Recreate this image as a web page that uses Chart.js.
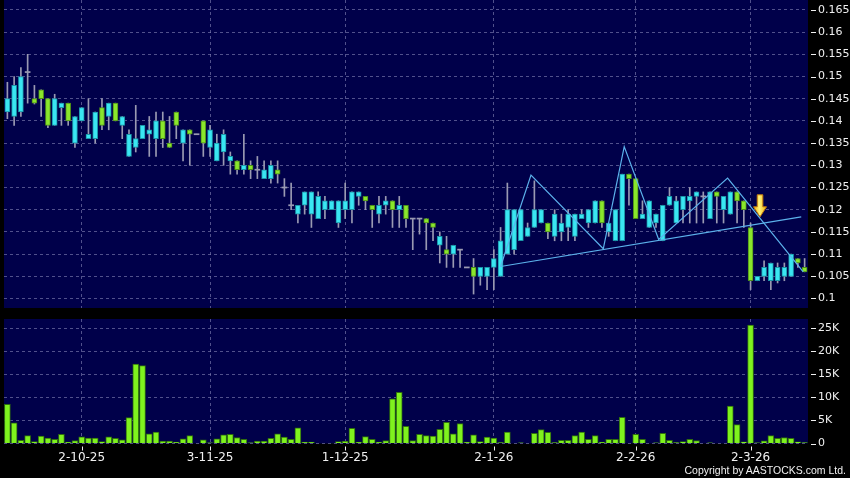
<!DOCTYPE html>
<html lang="en">
<head>
  <meta charset="UTF-8" />
  <title>Price and volume chart</title>
  <script src="https://cdn.jsdelivr.net/npm/chart.js"></script>
  <style>
    html, body { margin: 0; padding: 0; background: #000; }
    #wrap { position: relative; width: 850px; height: 478px; overflow: hidden; background: #000; }
    #priceChart { position: absolute; left: 0; top: 0; }
    #volumeChart { position: absolute; left: 0; top: 319px; }
    #copyright {
      position: absolute; right: 4px; top: 464px;
      font: 10.5px 'Liberation Sans', sans-serif; color: #f0f0f0; white-space: nowrap;
    }
  </style>
</head>
<body>
  <div id="wrap">
    <canvas id="priceChart" width="850" height="308"></canvas>
    <canvas id="volumeChart" width="850" height="159"></canvas>
    <div id="copyright">Copyright by AASTOCKS.com Ltd.</div>
  </div>

  <script>
    // daily candles, oldest first
    const opens = [
      0.142, 0.141, 0.142, 0.151, 0.145, 0.147, 0.145, 0.139, 0.143, 0.144,
      0.135, 0.140, 0.136, 0.136, 0.143, 0.141, 0.144, 0.139, 0.132, 0.134,
      0.136, 0.137, 0.136, 0.140, 0.135, 0.142, 0.135, 0.138, 0.137, 0.140,
      0.134, 0.131, 0.133, 0.131, 0.131, 0.129, 0.130, 0.129, 0.127, 0.127,
      0.129, 0.125, 0.121, 0.119, 0.121, 0.119, 0.118, 0.120, 0.120, 0.117,
      0.120, 0.120, 0.123, 0.123, 0.121, 0.119, 0.121, 0.122, 0.120, 0.121,
      0.118, 0.118, 0.118, 0.117, 0.112, 0.111, 0.110, 0.111, 0.107, 0.107,
      0.105, 0.105, 0.107, 0.105, 0.110, 0.111, 0.113, 0.114, 0.116, 0.117,
      0.117, 0.114, 0.115, 0.116, 0.114, 0.118, 0.117, 0.117, 0.122, 0.115,
      0.113, 0.113, 0.128, 0.127, 0.118, 0.116, 0.117, 0.113, 0.121, 0.117,
      0.120, 0.122, 0.123, 0.123, 0.118, 0.124, 0.120, 0.119, 0.124, 0.122,
      0.116, 0.104, 0.105, 0.104, 0.104, 0.105, 0.105, 0.109, 0.107
    ];
    const highs = [
      0.1487, 0.150, 0.152, 0.155, 0.148, 0.147, 0.145, 0.146, 0.144, 0.144,
      0.141, 0.143, 0.145, 0.142, 0.145, 0.144, 0.144, 0.141, 0.138, 0.1435,
      0.139, 0.141, 0.142, 0.142, 0.141, 0.142, 0.138, 0.138, 0.137, 0.140,
      0.139, 0.137, 0.138, 0.133, 0.131, 0.137, 0.131, 0.132, 0.131, 0.131,
      0.131, 0.127, 0.126, 0.121, 0.124, 0.124, 0.124, 0.123, 0.122, 0.122,
      0.126, 0.124, 0.124, 0.123, 0.121, 0.123, 0.123, 0.122, 0.123, 0.121,
      0.118, 0.118, 0.118, 0.117, 0.115, 0.114, 0.112, 0.111, 0.107, 0.109,
      0.107, 0.107, 0.111, 0.116, 0.126, 0.120, 0.120, 0.117, 0.1265, 0.120,
      0.117, 0.120, 0.119, 0.120, 0.119, 0.120, 0.120, 0.122, 0.122, 0.117,
      0.120, 0.128, 0.128, 0.127, 0.122, 0.122, 0.119, 0.121, 0.125, 0.123,
      0.123, 0.125, 0.124, 0.124, 0.124, 0.124, 0.123, 0.124, 0.124, 0.122,
      0.117, 0.105, 0.1085, 0.108, 0.108, 0.108, 0.110, 0.109, 0.109
    ];
    const lows = [
      0.1405, 0.139, 0.141, 0.144, 0.1438, 0.141, 0.1385, 0.139, 0.139, 0.139,
      0.134, 0.140, 0.136, 0.135, 0.138, 0.138, 0.140, 0.136, 0.132, 0.133,
      0.136, 0.132, 0.132, 0.134, 0.134, 0.136, 0.131, 0.130, 0.137, 0.132,
      0.132, 0.131, 0.130, 0.128, 0.128, 0.128, 0.127, 0.127, 0.127, 0.126,
      0.126, 0.123, 0.120, 0.117, 0.119, 0.116, 0.118, 0.118, 0.120, 0.116,
      0.118, 0.117, 0.121, 0.120, 0.116, 0.117, 0.119, 0.116, 0.116, 0.116,
      0.111, 0.1145, 0.111, 0.113, 0.108, 0.107, 0.107, 0.107, 0.107, 0.101,
      0.103, 0.102, 0.102, 0.105, 0.110, 0.110, 0.113, 0.114, 0.116, 0.117,
      0.1135, 0.113, 0.113, 0.113, 0.113, 0.118, 0.116, 0.117, 0.116, 0.114,
      0.113, 0.113, 0.121, 0.118, 0.118, 0.116, 0.116, 0.113, 0.121, 0.117,
      0.117, 0.117, 0.117, 0.117, 0.118, 0.117, 0.117, 0.119, 0.117, 0.116,
      0.102, 0.104, 0.104, 0.102, 0.1035, 0.104, 0.105, 0.107, 0.106
    ];
    const closes = [
      0.145, 0.148, 0.150, 0.151, 0.144, 0.145, 0.139, 0.145, 0.144, 0.140,
      0.141, 0.143, 0.137, 0.142, 0.139, 0.144, 0.140, 0.141, 0.137, 0.136,
      0.139, 0.138, 0.140, 0.136, 0.134, 0.139, 0.138, 0.137, 0.137, 0.135,
      0.138, 0.135, 0.137, 0.132, 0.129, 0.130, 0.129, 0.129, 0.129, 0.130,
      0.128, 0.125, 0.121, 0.121, 0.124, 0.124, 0.123, 0.122, 0.122, 0.122,
      0.122, 0.124, 0.124, 0.122, 0.120, 0.121, 0.122, 0.120, 0.121, 0.118,
      0.118, 0.118, 0.117, 0.116, 0.114, 0.110, 0.112, 0.111, 0.107, 0.105,
      0.107, 0.107, 0.109, 0.113, 0.120, 0.120, 0.120, 0.116, 0.120, 0.120,
      0.115, 0.119, 0.117, 0.119, 0.119, 0.119, 0.120, 0.122, 0.117, 0.117,
      0.120, 0.128, 0.127, 0.118, 0.119, 0.122, 0.119, 0.121, 0.123, 0.122,
      0.123, 0.123, 0.124, 0.123, 0.124, 0.123, 0.123, 0.124, 0.122, 0.120,
      0.104, 0.105, 0.107, 0.108, 0.107, 0.107, 0.110, 0.108, 0.106
    ];
    // daily volume, thousands of shares
    const volumesK = [
      8.5, 4.5, 0.7, 1.7, 0.4, 1.6, 1.2, 0.9, 2.0, 0.3,
      0.65, 1.45, 1.2, 1.2, 0.4, 1.45, 1.1, 0.8, 5.6, 17.2,
      16.9, 2.1, 2.5, 0.5, 0.5, 0.3, 1.0, 1.7, 0, 0.8,
      0.15, 1.0, 1.9, 2.0, 1.3, 0.9, 0.15, 0.5, 0.5, 1.1,
      2.1, 1.4, 0.9, 3.4, 0.3, 0.3, 0, 0, 0.1, 0.4,
      0.5, 3.3, 0.3, 1.5, 0.9, 0.3, 0.65, 9.7, 11.1, 3.7,
      0.65, 2.0, 1.7, 1.6, 3.1, 4.6, 2.1, 4.3, 0.3, 1.9,
      0.4, 1.4, 1.2, 0.2, 2.5, 0, 0.15, 0, 2.2, 3.0,
      2.4, 0.2, 0.7, 0.7, 1.7, 2.5, 0.9, 1.7, 0.3, 0.9,
      0.9, 5.7, 0, 2.0, 0.9, 0, 0.15, 2.2, 0.7, 0.2,
      0.4, 0.9, 0.65, 0, 0.15, 0, 0, 8.1, 4.1, 0.35,
      25.7, 0.15, 0.6, 1.7, 1.1, 1.3, 1.1, 0.35, 0.2
    ];

    // date labels on the x axis (candle index -> text)
    const dateTickIndex = [11, 30, 50, 72, 93, 110];
    const dateTickText = ['2-10-25', '3-11-25', '1-12-25', '2-1-26', '2-2-26', '2-3-26'];
    const priceTicks = [0.1, 0.105, 0.11, 0.115, 0.12, 0.125, 0.13, 0.135, 0.14, 0.145, 0.15, 0.155, 0.16, 0.165];
    const volumeTicksK = [0, 5, 10, 15, 20, 25];

    // drawn trend lines (candle index, price)
    const zigzagIndex = [73, 77.5, 88.2, 91.3, 96.4, 106.6, 117.8];
    const zigzagPrice = [0.1072, 0.1278, 0.1112, 0.1342, 0.1133, 0.1271, 0.1060];
    const supportIndex = [73, 117.5];
    const supportPrice = [0.1072, 0.1184];
    // arrow tip
    const arrowIndex = 111.4;
    const arrowPrice = 0.1184;

    const NAVY = '#00004a';
    const GRID = 'rgba(125,125,175,0.65)';
    const LABEL = '#f0f0f0';
    const CYAN = '#3ae6f2';
    const CYAN_EDGE = '#1b95a8';
    const GREEN = '#8ae62c';
    const GREEN_EDGE = '#4d8e1a';
    const WICK = '#9a9ab2';
    const TREND = '#5cb2ec';

    const count = closes.length;
    const xMin = -0.5;
    const xMax = count - 0.5;
    const dojiHalf = 0.00012;

    const isDoji = (i) => opens[i] === closes[i];
    const bodyFill = (i) => isDoji(i) ? WICK : (closes[i] > opens[i] ? CYAN : GREEN);
    const bodyEdge = (i) => isDoji(i) ? WICK : (closes[i] > opens[i] ? CYAN_EDGE : GREEN_EDGE);

    const bodyData = closes.map((c, i) => ({
      x: i,
      y: isDoji(i) ? [c - dojiHalf, c + dojiHalf] : [opens[i], c]
    }));
    const wickData = closes.map((c, i) => ({ x: i, y: [lows[i], highs[i]] }));
    const volumeData = volumesK.map((v, i) => ({ x: i, y: v }));

    // navy plot area
    const plotBackground = {
      id: 'plotBackground',
      beforeDraw(chart) {
        const { ctx, chartArea: a } = chart;
        ctx.save();
        ctx.fillStyle = NAVY;
        ctx.fillRect(a.left, a.top, a.right - a.left, a.bottom - a.top);
        ctx.restore();
      }
    };

    // small white tick marks next to the labels
    function tickMarks(withX) {
      return {
        id: 'tickMarks',
        afterDraw(chart) {
          const { ctx, chartArea: a, scales } = chart;
          ctx.save();
          ctx.strokeStyle = LABEL;
          ctx.lineWidth = 1;
          scales.y.ticks.forEach((t) => {
            const py = Math.round(scales.y.getPixelForValue(t.value)) + 0.5;
            ctx.beginPath();
            ctx.moveTo(a.right + 3, py);
            ctx.lineTo(a.right + 8, py);
            ctx.stroke();
          });
          if (withX) {
            scales.x.ticks.forEach((t) => {
              const px = Math.round(scales.x.getPixelForValue(t.value)) + 0.5;
              ctx.beginPath();
              ctx.moveTo(px, a.bottom + 3);
              ctx.lineTo(px, a.bottom + 7);
              ctx.stroke();
            });
          }
          ctx.restore();
        }
      };
    }

    // yellow down arrow
    const downArrow = {
      id: 'downArrow',
      afterDatasetsDraw(chart) {
        const { ctx, scales: { x, y } } = chart;
        const tx = x.getPixelForValue(arrowIndex);
        const ty = y.getPixelForValue(arrowPrice);
        ctx.save();
        ctx.beginPath();
        ctx.moveTo(tx, ty);
        ctx.lineTo(tx - 6.5, ty - 10);
        ctx.lineTo(tx - 2.8, ty - 10);
        ctx.lineTo(tx - 2.8, ty - 22);
        ctx.lineTo(tx + 2.8, ty - 22);
        ctx.lineTo(tx + 2.8, ty - 10);
        ctx.lineTo(tx + 6.5, ty - 10);
        ctx.closePath();
        const g = ctx.createLinearGradient(tx - 6, 0, tx + 6, 0);
        g.addColorStop(0, '#f0b810');
        g.addColorStop(0.45, '#fff27a');
        g.addColorStop(1, '#f0b810');
        ctx.fillStyle = g;
        ctx.fill();
        ctx.strokeStyle = '#c47a0c';
        ctx.lineWidth = 1;
        ctx.stroke();
        ctx.restore();
      }
    };

    function xScale(showLabels, height) {
      return {
        type: 'linear',
        min: xMin,
        max: xMax,
        offset: false,
        afterBuildTicks: (s) => { s.ticks = dateTickIndex.map((v) => ({ value: v })); },
        ticks: {
          display: showLabels,
          color: LABEL,
          font: { family: 'DejaVu Sans', size: 12 },
          padding: 7,
          maxRotation: 0,
          autoSkip: false,
          callback: (v) => dateTickText[dateTickIndex.indexOf(v)]
        },
        grid: { color: GRID, lineWidth: 1, drawTicks: false, offset: false },
        border: { display: false, dash: [3, 3] },
        afterFit: (s) => {
          s.height = height;
          s.paddingLeft = 0;
          s.paddingRight = 0;
        }
      };
    }

    function yScale(min, max, tickValues, format) {
      return {
        type: 'linear',
        position: 'right',
        min: min,
        max: max,
        afterBuildTicks: (s) => { s.ticks = tickValues.map((v) => ({ value: v })); },
        ticks: {
          color: LABEL,
          font: { family: 'DejaVu Sans', size: 11 },
          padding: 10,
          callback: format
        },
        grid: { color: GRID, lineWidth: 1, drawTicks: false },
        border: { display: false, dash: [3, 3] },
        afterFit: (s) => {
          s.width = 42;
          s.paddingTop = 0;
          s.paddingBottom = 0;
        }
      };
    }

    // price panel
    new Chart(document.getElementById('priceChart'), {
      type: 'bar',
      data: {
        datasets: [
          {
            type: 'line',
            label: 'Zigzag',
            data: zigzagIndex.map((x, k) => ({ x: x, y: zigzagPrice[k] })),
            borderColor: TREND,
            borderWidth: 1.2,
            pointRadius: 0,
            tension: 0,
            fill: false,
            order: 0
          },
          {
            type: 'line',
            label: 'Support',
            data: supportIndex.map((x, k) => ({ x: x, y: supportPrice[k] })),
            borderColor: TREND,
            borderWidth: 1.2,
            pointRadius: 0,
            tension: 0,
            fill: false,
            order: 0
          },
          {
            label: 'Body',
            data: bodyData,
            backgroundColor: bodyData.map((_, i) => bodyFill(i)),
            borderColor: bodyData.map((_, i) => bodyEdge(i)),
            borderWidth: bodyData.map((_, i) => isDoji(i) ? 0 : 1),
            borderSkipped: false,
            barThickness: 5,
            grouped: false,
            order: 1
          },
          {
            label: 'Wick',
            data: wickData,
            backgroundColor: WICK,
            borderWidth: 0,
            barThickness: 1,
            grouped: false,
            order: 2
          }
        ]
      },
      options: {
        responsive: false,
        animation: false,
        devicePixelRatio: 1,
        events: [],
        layout: { padding: { left: 4, right: 0, top: 0, bottom: 0 } },
        plugins: { legend: { display: false }, tooltip: { enabled: false } },
        scales: {
          x: xScale(false, 0),
          y: yScale(0.09786, 0.16723, priceTicks, (v) => String(Number(v.toFixed(3))))
        }
      },
      plugins: [plotBackground, tickMarks(false), downArrow]
    });

    // volume panel
    new Chart(document.getElementById('volumeChart'), {
      type: 'bar',
      data: {
        datasets: [
          {
            label: 'Volume',
            data: volumeData,
            backgroundColor: '#7ff21e',
            borderColor: '#2f6e0e',
            borderWidth: 1,
            barThickness: 6,
            grouped: false
          }
        ]
      },
      options: {
        responsive: false,
        animation: false,
        devicePixelRatio: 1,
        events: [],
        layout: { padding: { left: 4, right: 0, top: 0, bottom: 0 } },
        plugins: { legend: { display: false }, tooltip: { enabled: false } },
        scales: {
          x: xScale(true, 34.5),
          y: yScale(0, 27, volumeTicksK, (v) => (v === 0 ? '0' : v + 'K'))
        }
      },
      plugins: [plotBackground, tickMarks(true)]
    });
  </script>
</body>
</html>
